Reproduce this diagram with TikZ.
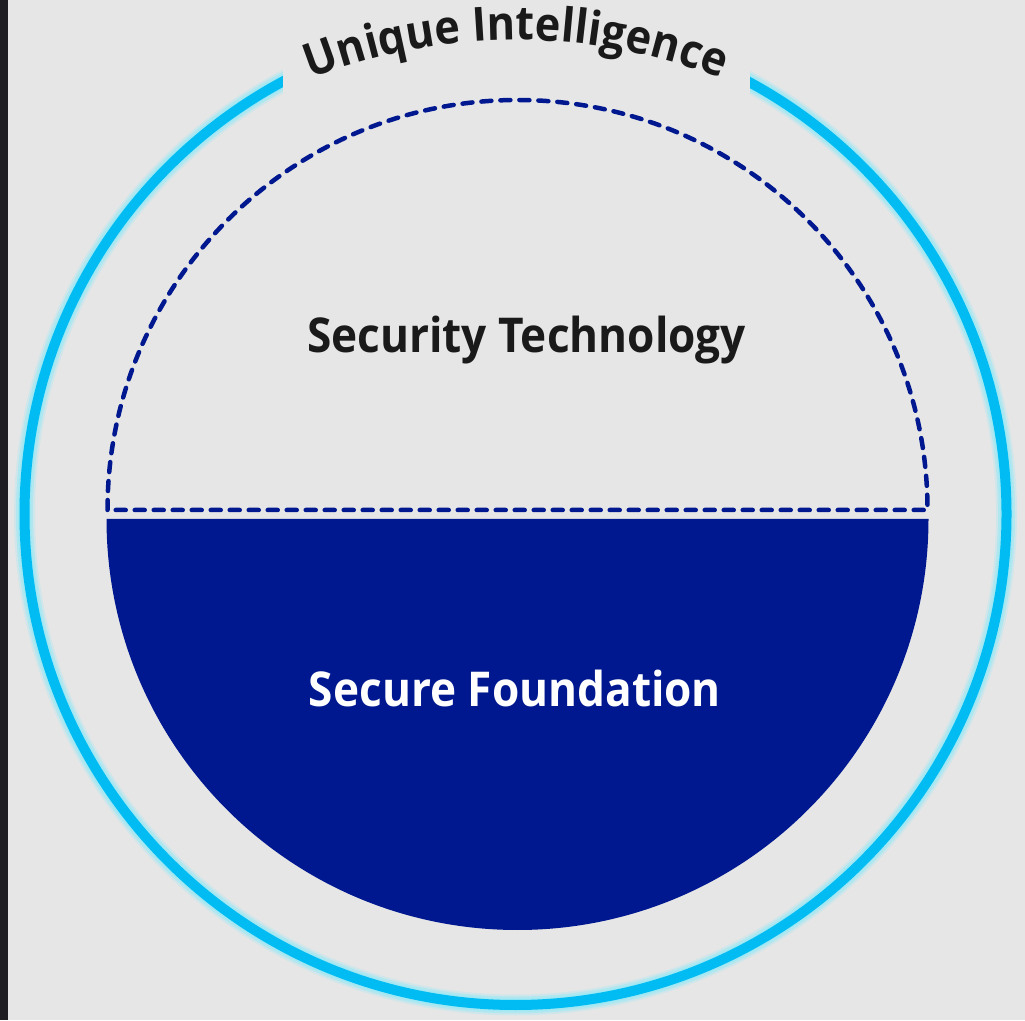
\documentclass[tikz,border=0pt]{standalone}
\usepackage{fontspec}
\setmainfont{Open Sans}
\newfontfamily\labelfont[FakeStretch=0.92]{Open Sans}
\usetikzlibrary{decorations.text}
\definecolor{bggray}{HTML}{E6E6E6}
\definecolor{darkstrip}{HTML}{1E1E22}
\definecolor{ringcyan}{HTML}{00BCF2}
\definecolor{ringglow}{HTML}{9FE8F4}
\definecolor{navy}{HTML}{00188F}
\definecolor{inktext}{HTML}{1A1A1A}

\begin{document}
\begin{tikzpicture}[x=1pt, y=1pt,
  ring/.style={draw=ringcyan, line width=10pt},
  glow/.style={draw=ringglow, line width=#1},
  halfline/.style={draw=navy, line width=4.5pt, dash pattern=on 10pt off 9pt, line cap=round, line join=round},
  title/.style={font=\labelfont\bfseries\fontsize{48}{52}\selectfont, text=inktext, inner sep=0pt},
]

% === Background ===
\fill[bggray] (0,0) rectangle (1025,1020);
\fill[darkstrip] (0,0) rectangle (8,1020);
\useasboundingbox (0,0) rectangle (1025,1020);

% === Outer ring with glow ===
\coordinate (ringc) at (515.5,506);
\draw[glow=21pt, opacity=0.3] (ringc) circle[radius=491];
\draw[glow=17pt, opacity=0.6] (ringc) circle[radius=491];
\draw[glow=13pt] (ringc) circle[radius=491];
\draw[ring] (ringc) circle[radius=491];
\fill[bggray] (283,922) rectangle (750,1020);

% === Curved title ===
\coordinate (titlec) at (516,419);
\path[decorate, decoration={text along path, text align=center, text color=inktext,
  text={|\labelfont\bfseries\fontsize{47}{50}\selectfont|Unique Intelligence}}]
  (titlec) ++(135:561) arc[start angle=135, end angle=45, radius=561];

% === Inner half disc ===
\coordinate (innc) at (517.5,510);
\fill[navy] (106.5,501) arc[start angle=180, end angle=360, radius=411] -- cycle;
\draw[halfline] (107.5,510) arc[start angle=180, end angle=0, radius=410] -- cycle;

% === Labels ===
\node[title, anchor=base] (sectech) at (526.5,667) {Security Technology};
\node[title, text=white, anchor=base] (secfound) at (515,313) {Secure Foundation};

\end{tikzpicture}
\end{document}
